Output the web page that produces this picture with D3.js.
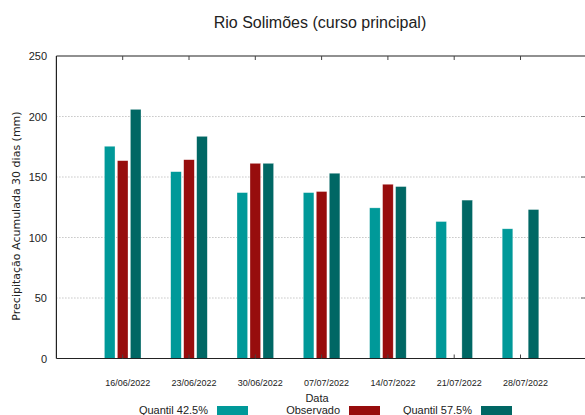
<!DOCTYPE html>
<html><head><meta charset="utf-8">
<script src="https://cdn.jsdelivr.net/npm/d3@7"></script>
<style>html,body{margin:0;padding:0;background:#fff;overflow:hidden}</style>
</head><body>
<svg id="c" width="585" height="415"></svg>
<script>
const categories = ["16/06/2022","23/06/2022","30/06/2022","07/07/2022","14/07/2022","21/07/2022","28/07/2022"];
const quantil425 = [175.4, 154.4, 137.1, 137.1, 124.5, 113.2, 107.2];
const observado  = [163.5, 164.3, 161.3, 138.0, 144.0, null, null];
const quantil575 = [205.9, 183.6, 161.3, 153.1, 142.1, 130.9, 123.1];
const yTicks = [0, 50, 100, 150, 200, 250];
const seriesNames = ["Quantil 42.5%", "Observado", "Quantil 57.5%"];
const seriesColors = ["#009999", "#970d0d", "#006764"];

const svg = d3.select("#c");
const font = "'Liberation Sans', Arial, sans-serif";
const pLeft = 56.4, pTop = 56, pBottom = 358.5;
const x = d3.scaleLinear().domain([-1, 8]).range([pLeft, pLeft + 9 * 66.3]);
const y = d3.scaleLinear().domain([0, 250]).range([pBottom, pTop]);

// grid
svg.append("g").selectAll("line").data(yTicks.filter(d => d > 0 && d < 250)).join("line")
  .attr("x1", pLeft).attr("x2", 585).attr("y1", d => y(d)).attr("y2", d => y(d))
  .attr("stroke", "#aaa").attr("stroke-width", 1).attr("stroke-dasharray", "1,2");

// bars
const series = [quantil425, observado, quantil575];
const offs = [-0.196, 0, 0.196];
const bw = 0.16;
series.forEach((s, k) => {
  svg.append("g").selectAll("rect").data(s.map((v, i) => ({v, i})).filter(d => d.v != null)).join("rect")
    .attr("x", d => x(d.i + offs[k] - bw / 2))
    .attr("width", x(bw) - x(0))
    .attr("y", d => y(d.v))
    .attr("height", d => y(0) - y(d.v))
    .attr("fill", seriesColors[k])
    .attr("stroke", "rgba(255,255,255,0.5)").attr("stroke-width", 0.6);
});

// axes frame
const ax = svg.append("g").attr("stroke", "#222").attr("stroke-width", 1.2);
ax.append("line").attr("x1", pLeft).attr("x2", pLeft).attr("y1", pTop).attr("y2", pBottom);
ax.append("line").attr("x1", pLeft).attr("x2", 585).attr("y1", pTop).attr("y2", pTop);
ax.append("line").attr("x1", pLeft).attr("x2", 585).attr("y1", pBottom).attr("y2", pBottom);

// x ticks top and bottom
svg.append("g").selectAll("line").data(categories.map((c, i) => i)).join("line")
  .attr("x1", d => x(d)).attr("x2", d => x(d)).attr("y1", pTop).attr("y2", pTop + 4)
  .attr("stroke", "#444").attr("stroke-width", 1);
svg.append("g").selectAll("line").data(categories.map((c, i) => i)).join("line")
  .attr("x1", d => x(d)).attr("x2", d => x(d)).attr("y1", pBottom).attr("y2", pBottom - 4)
  .attr("stroke", "#444").attr("stroke-width", 1);
// right ticks
svg.append("g").selectAll("line").data(yTicks.filter(d => d > 0 && d < 250)).join("line")
  .attr("x1", 581).attr("x2", 585).attr("y1", d => y(d)).attr("y2", d => y(d))
  .attr("stroke", "#666").attr("stroke-width", 1);

// y tick labels
svg.append("g").selectAll("text").data(yTicks).join("text")
  .attr("x", 47).attr("y", d => y(d) + 4).attr("text-anchor", "end")
  .attr("font-family", font).attr("font-size", 11).attr("fill", "#222")
  .text(d => d);

// x tick labels
svg.append("g").selectAll("text").data(categories).join("text")
  .attr("x", (d, i) => x(i) + 5).attr("y", 386).attr("text-anchor", "middle")
  .attr("font-family", font).attr("font-size", 9).attr("fill", "#222")
  .text(d => d);

// title
svg.append("text").attr("x", 320).attr("y", 28).attr("text-anchor", "middle")
  .attr("font-family", font).attr("font-size", 16).attr("fill", "#222")
  .text("Rio Solimões (curso principal)");

// axis titles
svg.append("text").attr("x", 317).attr("y", 402).attr("text-anchor", "middle")
  .attr("font-family", font).attr("font-size", 11).attr("fill", "#222").text("Data");
svg.append("text").attr("transform", "translate(20,216) rotate(-90)").attr("text-anchor", "middle")
  .attr("font-family", "'DejaVu Sans', sans-serif").attr("font-size", 11).attr("fill", "#222")
  .text("Precipitação Acumulada 30 dias (mm)");

// legend
const lg = svg.append("g");
seriesNames.forEach((n, k) => {
  const xe = 208 + k * 132;
  lg.append("text").attr("x", xe).attr("y", 414).attr("text-anchor", "end")
    .attr("font-family", font).attr("font-size", 11).attr("fill", "#222").text(n);
  lg.append("rect").attr("x", xe + 9).attr("y", 406).attr("width", 31).attr("height", 10)
    .attr("fill", seriesColors[k]);
});
</script>
</body></html>
